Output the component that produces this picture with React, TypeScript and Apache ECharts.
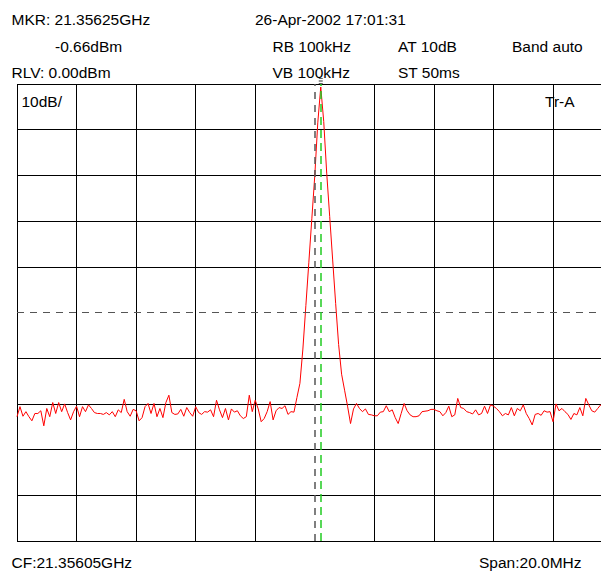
import React, { useEffect, useRef } from "react";
import * as echarts from "echarts";

// Sweep: centre-relative frequency in MHz (CF 21.35605 GHz, span 20 MHz, 2 MHz/div)
const SPAN_START_MHZ = -10;
const SPAN_END_MHZ = 10;
const SWEEP_STEP_MHZ = 0.1;
const FREQ_TICK_MHZ = 2;

// Amplitude axis: reference level 0 dBm, 10 dB/div
const REF_LEVEL_DBM = 0;
const BOTTOM_LEVEL_DBM = -100;
const LEVEL_TICK_DB = 10;

// Marker
const MARKER_OFFSET_MHZ = 0.2;
const MARKER_LEVEL_DBM = -0.66;

// Trace levels (dBm), one per sweep point
const LEVELS_DBM = [
  -72.8, -70.6, -72.7, -71.7, -72.8, -73.7, -72.1, -72.1, -71.5, -74.8,
  -71.0, -72.8, -69.7, -72.1, -69.7, -71.7, -70.0, -71.9, -73.5, -71.7,
  -70.5, -72.8, -70.6, -71.7, -70.2, -71.0, -71.9, -72.1, -72.1, -72.3,
  -71.9, -72.4, -71.7, -72.8, -71.3, -71.9, -69.0, -71.7, -72.7, -71.2,
  -71.5, -73.7, -73.0, -70.6, -69.9, -72.1, -69.9, -72.8, -71.0, -73.0,
  -69.7, -68.1, -71.9, -72.3, -72.2, -71.2, -72.7, -70.8, -71.9, -72.7,
  -70.6, -71.9, -72.3, -71.7, -71.8, -71.3, -72.8, -69.2, -71.3, -73.0,
  -71.0, -73.5, -71.1, -71.8, -71.5, -72.6, -73.2, -72.8, -68.1, -71.7,
  -69.2, -71.1, -73.9, -73.2, -71.7, -69.5, -73.5, -71.5, -70.8, -71.0,
  -70.4, -72.3, -71.7, -71.8, -68.6, -65.5, -58.0, -48.5, -39.0, -29.5,
  -20.0, -8.5, -0.66, -8.2, -19.5, -29.0, -38.5, -48.0, -57.0, -63.5,
  -67.0, -70.5, -74.3, -71.1, -69.9, -71.0, -71.7, -71.1, -72.3, -72.4,
  -72.6, -72.6, -71.8, -71.7, -70.4, -71.7, -71.3, -73.0, -74.3, -72.1,
  -69.9, -71.5, -72.4, -72.8, -72.8, -72.6, -71.7, -71.6, -71.5, -71.2,
  -71.2, -71.5, -71.7, -72.6, -71.9, -70.5, -72.8, -72.4, -68.8, -70.8,
  -71.0, -71.7, -71.9, -72.2, -71.3, -72.4, -72.1, -70.5, -72.1, -70.2,
  -70.5, -71.0, -71.7, -72.6, -72.1, -72.4, -70.8, -72.6, -71.0, -71.5,
  -70.2, -72.1, -73.2, -74.6, -72.3, -72.1, -72.5, -71.5, -71.8, -71.7,
  -73.9, -70.0, -71.5, -71.0, -71.7, -72.3, -73.4, -72.1, -72.4, -70.8,
  -72.6, -68.8, -70.2, -71.5, -71.8, -71.0, -70.2, -71.4, -72.0, -70.9,
  -71.6,
];

// Header / footer texts
const HEADER_TEXTS = [
  "MKR: 21.35625GHz",
  "-0.66dBm",
  "RLV: 0.00dBm",
  "26-Apr-2002 17:01:31",
  "RB 100kHz",
  "VB 100kHz",
  "AT 10dB",
  "ST 50ms",
  "Band auto",
];
const SCALE_LABEL = "10dB/";
const TRACE_LABEL = "Tr-A";
const CF_LABEL = "CF:21.35605GHz";
const SPAN_LABEL = "Span:20.0MHz";

const FONT = "'Liberation Sans', Arial, sans-serif";
const FS = 15.5;

// The instrument screen is wider than the photographed window: the last
// graticule column is cut off at the right edge, so the canvas overflows.
const CANVAS_W = 625;
const CANVAS_H = 572;

export default function App() {
  const ref = useRef<HTMLDivElement>(null);

  useEffect(() => {
    document.body.style.margin = "0";
    document.body.style.overflow = "hidden";
    document.documentElement.style.overflow = "hidden";
    const chart = echarts.init(ref.current!, null, { renderer: "svg" });

    const traceData = LEVELS_DBM.map((v, i) => [
      +(SPAN_START_MHZ + i * SWEEP_STEP_MHZ).toFixed(2),
      v,
    ]);

    const xLineColors: string[] = [];
    for (let i = 0; i <= (SPAN_END_MHZ - SPAN_START_MHZ) / FREQ_TICK_MHZ; i++) {
      xLineColors.push(i === 5 ? "rgba(0,0,0,0)" : "#000000");
    }
    const yLineColors: string[] = [];
    for (let i = 0; i <= (REF_LEVEL_DBM - BOTTOM_LEVEL_DBM) / LEVEL_TICK_DB; i++) {
      yLineColors.push(i === 5 ? "rgba(0,0,0,0)" : "#000000");
    }

    const txt = (text: string, x: number, y: number) => ({
      type: "text",
      x,
      y,
      silent: true,
      style: {
        text,
        fill: "#000",
        font: `${FS}px ${FONT}`,
        verticalAlign: "middle",
        align: "left",
      },
    });

    chart.setOption({
      animation: false,
      backgroundColor: "#ffffff",
      grid: { left: 17, top: 84, right: CANVAS_W - 612.6, bottom: 31, containLabel: false },
      xAxis: {
        type: "value",
        min: SPAN_START_MHZ,
        max: SPAN_END_MHZ,
        interval: FREQ_TICK_MHZ,
        axisLine: { show: false },
        axisTick: { show: false },
        axisLabel: { show: false },
        splitLine: { show: true, lineStyle: { color: xLineColors, width: 1 } },
      },
      yAxis: {
        type: "value",
        min: BOTTOM_LEVEL_DBM,
        max: REF_LEVEL_DBM,
        interval: LEVEL_TICK_DB,
        axisLine: { show: false },
        axisTick: { show: false },
        axisLabel: { show: false },
        splitLine: { show: true, lineStyle: { color: yLineColors, width: 1 } },
      },
      graphic: [
        txt(HEADER_TEXTS[0], 11.5, 19),
        txt(HEADER_TEXTS[1], 55, 46.5),
        txt(HEADER_TEXTS[2], 11.5, 72),
        txt(HEADER_TEXTS[3], 255, 19),
        txt(HEADER_TEXTS[4], 272.5, 46.5),
        txt(HEADER_TEXTS[5], 272.5, 72),
        txt(HEADER_TEXTS[6], 398, 46.5),
        txt(HEADER_TEXTS[7], 398, 72),
        txt(HEADER_TEXTS[8], 512, 46.5),
        txt(SCALE_LABEL, 21.5, 101),
        txt(TRACE_LABEL, 545, 101),
        txt(CF_LABEL, 11.5, 562),
        txt(SPAN_LABEL, 479, 562),
      ],
      series: [
        {
          type: "line",
          data: traceData,
          showSymbol: false,
          symbol: "none",
          lineStyle: { color: "#ff0000", width: 1 },
          silent: true,
          z: 3,
          markLine: {
            silent: true,
            symbol: "none",
            label: { show: false },
            animation: false,
            data: [
              { xAxis: 0, lineStyle: { color: "#555555", type: [7, 6], width: 1.5 } },
              { yAxis: -50, lineStyle: { color: "#555555", type: [7, 6], width: 1 } },
              { xAxis: MARKER_OFFSET_MHZ, lineStyle: { color: "#22cc22", type: [8, 5], width: 1.5 } },
            ],
          },
          markPoint: {
            silent: true,
            symbol: "path://M0,0h6v1h-6zM0,3h6v1h-6zM0,6h6v1h-6z",
            symbolSize: [4, 6],
            symbolOffset: [0, -6],
            itemStyle: { color: "#333333" },
            label: { show: false },
            data: [{ coord: [MARKER_OFFSET_MHZ, MARKER_LEVEL_DBM] }],
          },
        },
      ],
    });

    return () => chart.dispose();
  }, []);

  return <div ref={ref} style={{ width: CANVAS_W, height: CANVAS_H }} />;
}
